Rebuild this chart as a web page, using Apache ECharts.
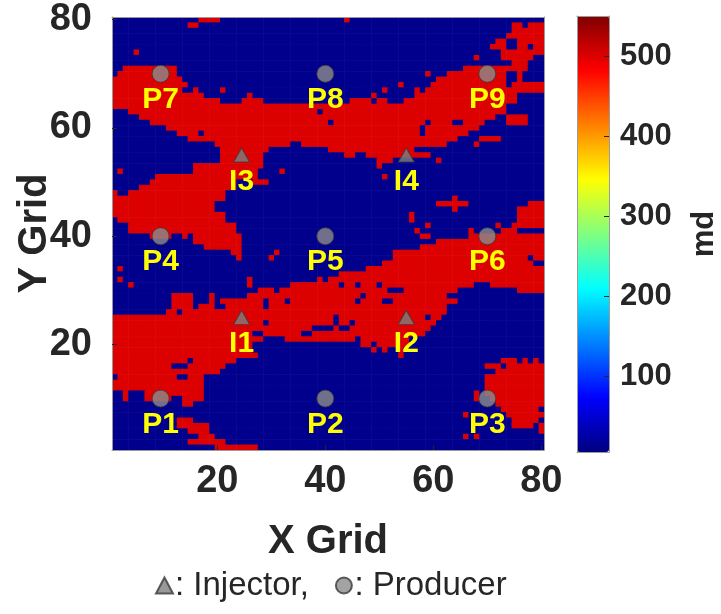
<!DOCTYPE html>
<html>
<head>
<meta charset="utf-8">
<script src="https://cdn.jsdelivr.net/npm/echarts@6/dist/echarts.min.js"></script>
<style>
  html, body { margin: 0; padding: 0; background: #ffffff; }
  #chart { width: 721px; height: 614px; }
</style>
</head>
<body>
<div id="chart"></div>
<script>
// Permeability field on an 80 x 80 grid: two facies, background and channel.
const gridSize = 80;
const permLow = 12;    // md, background facies
const permHigh = 500;  // md, channel facies

// Channel (high permeability) cells, one entry per grid row from Y = 80 down to Y = 1.
// Each entry lists X ranges ("a-b") or single X cells.
const highPermRuns = [
  "17-20 44",
  "15-16 75-76 78-80",
  "75-80",
  "74-80",
  "72-73 76-80",
  "71-73 76-77 79-80",
  "5 73-80",
  "68 73-78",
  "75-77",
  "3-12 66-77",
  "2-12 59 63-73 76",
  "1-13 61-73 76",
  "1-14 54 60-73 75-80",
  "1-13 16 21 51 57 59-80",
  "1-17 26 49 57-75",
  "1-20 25-28 45-48 50-51 55-75",
  "1-73",
  "4-38 40-73",
  "6-71 74-77",
  "8-40 42-58 60-63 66-69 74-77",
  "11-57 59-68",
  "13-16 18-57 59-66",
  "15-64 69-72",
  "20-33 36-62 68",
  "21-29 41-56",
  "21-28 44-45 48-59",
  "21-28 50-52 61",
  "16-28 50",
  "2 16-27 32",
  "9-27 51",
  "8-23 27-29",
  "6-23",
  "1 4-21",
  "1-21 64",
  "1-19 61-66 78-80",
  "1-19 64 76-80",
  "1-21 56 76-80",
  "2-21 56 76-80",
  "4-23 59 72 75-80",
  "4-23 57 67 73-75",
  "8-11 14 16-24 58-59 67-80",
  "16-24 61-80",
  "18-24 58-80",
  "23-24 31 53-80",
  "24 30 53-77 79-80",
  "51-78",
  "2 48-80",
  "43-80",
  "2 26 39 41-80",
  "4 26 34-42 44-45 47-49 51-67 71-80",
  "28-30 32-51 55-64 76-80",
  "12-15 19 26-46 48-62",
  "12-15 19 21-28 30-32 34-45 47-50 53-64",
  "12-15 17-19 22-28 30-62",
  "11-12 14-62",
  "1-41 43-58 60-61",
  "1-28 30-41 43-44 46-60",
  "1-37 42 45-59",
  "1-26 29-35 38-58",
  "1-28 33-45 47-55",
  "1-26 47-48 50-55",
  "1-26 49 51 54",
  "1-27 54",
  "1-14 16-23 73-75 77 79",
  "1-11 15-21 70-72 74-80",
  "1-20 72-80",
  "2-12 15-17 70-80",
  "1-17 70-80",
  "1-17 70-80",
  "3 7-17 68 70-80",
  "3 7-11 14-17 68 71-80",
  "14-15 72-80",
  "73-79",
  "66 74-80",
  "13-15 75-79",
  "13-18 75-78 80",
  "15-18 80",
  "17-19 66 68",
  "15-21",
  "20-27"
];

// Wells
const producerNames = ["P1", "P2", "P3", "P4", "P5", "P6", "P7", "P8", "P9"];
const producerX = [9.5, 40, 70, 9.5, 40, 70, 9.5, 40, 70];
const producerY = [10, 10, 10, 40, 40, 40, 70, 70, 70];
const injectorNames = ["I1", "I2", "I3", "I4"];
const injectorX = [24.5, 55, 24.5, 55];
const injectorY = [25, 25, 55, 55];

// Axes and colour bar
const gridTicks = [20, 40, 60, 80];
const colorbarTicks = [100, 200, 300, 400, 500];
const permRange = [5, 550];
const jetColors = ["#000080", "#0000ff", "#0080ff", "#00ffff", "#80ff80",
                   "#ffff00", "#ff8000", "#ff0000", "#800000"];

// Expand the row runs into one [x, y, permeability] record per cell.
function buildCells() {
  const cells = [];
  highPermRuns.forEach(function (row, i) {
    const y = gridSize - i;
    const high = new Set();
    row.split(" ").filter(Boolean).forEach(function (tok) {
      const parts = tok.split("-").map(Number);
      const a = parts[0], b = parts.length > 1 ? parts[1] : parts[0];
      for (let x = a; x <= b; x++) high.add(x);
    });
    for (let x = 1; x <= gridSize; x++) {
      cells.push([x, y, high.has(x) ? permHigh : permLow]);
    }
  });
  return cells;
}

function wellData(names, xs, ys) {
  return names.map(function (n, i) { return { name: n, value: [xs[i], ys[i]] }; });
}

const FONT = "'Liberation Sans', Arial, sans-serif";
const TEXT = "#262626";
const FRAME = "#9a9a9a";
const WELL_LABEL = {
  show: true, position: "bottom", formatter: "{b}",
  color: "#ffff00", fontSize: 30, fontWeight: "bold", fontFamily: FONT,
  textBorderWidth: 0, opacity: 1
};

function renderCell(params, api) {
  const x = api.value(0), y = api.value(1);
  const p0 = api.coord([x - 0.5, y + 0.5]);
  const p1 = api.coord([x + 0.5, y - 0.5]);
  return {
    type: "rect",
    shape: { x: p0[0], y: p0[1], width: p1[0] - p0[0] + 0.6, height: p1[1] - p0[1] + 0.6 },
    style: { fill: api.visual("color") }
  };
}

const frameAxis = function (extra) {
  return Object.assign({
    type: "value",
    z: 5,
    nameMoveOverlap: false,
    axisLine: { show: true, onZero: false, lineStyle: { color: FRAME, width: 1 } },
    axisTick: { show: false },
    axisLabel: { show: false },
    splitLine: { show: false }
  }, extra);
};

const chart = echarts.init(document.getElementById("chart"), null, { renderer: "canvas" });

chart.setOption({
  animation: false,
  backgroundColor: "#ffffff",
  grid: [
    { left: 112, top: 17, width: 432, height: 433, containLabel: false, outerBoundsMode: "none" },
    { left: 577, top: 16, width: 32, height: 436, containLabel: false, outerBoundsMode: "none" }
  ],
  xAxis: [
    frameAxis({
      gridIndex: 0, position: "bottom", min: 0.5, max: gridSize + 0.5,
      axisTick: { show: true, inside: true, length: 5, customValues: gridTicks,
                  lineStyle: { color: TEXT } },
      axisLabel: { show: true, customValues: gridTicks, margin: 13, color: TEXT,
                   fontSize: 38, fontWeight: "bold", fontFamily: FONT },
      name: "X Grid", nameLocation: "middle", nameGap: 72,
      nameTextStyle: { color: TEXT, fontSize: 40, fontWeight: "bold", fontFamily: FONT }
    }),
    frameAxis({ gridIndex: 0, position: "top", min: 0.5, max: gridSize + 0.5 }),
    frameAxis({ gridIndex: 1, position: "bottom", min: 0, max: 1, z: 10 }),
    frameAxis({ gridIndex: 1, position: "top", min: 0, max: 1, z: 10 })
  ],
  yAxis: [
    frameAxis({
      gridIndex: 0, position: "left", min: 0.5, max: gridSize + 0.5,
      axisTick: { show: true, inside: true, length: 5, customValues: gridTicks,
                  lineStyle: { color: TEXT } },
      axisLabel: { show: true, customValues: gridTicks, margin: 20, color: TEXT,
                   fontSize: 38, fontWeight: "bold", fontFamily: FONT },
      name: "Y Grid", nameLocation: "middle", nameGap: 57, nameRotate: 90,
      nameTextStyle: { color: TEXT, fontSize: 40, fontWeight: "bold", fontFamily: FONT }
    }),
    frameAxis({ gridIndex: 0, position: "right", min: 0.5, max: gridSize + 0.5 }),
    frameAxis({
      gridIndex: 1, position: "right", min: permRange[0], max: permRange[1], z: 10,
      axisTick: { show: true, inside: true, length: 5, customValues: colorbarTicks,
                  lineStyle: { color: TEXT } },
      axisLabel: { show: true, customValues: colorbarTicks, margin: 11, color: TEXT,
                   fontSize: 31, fontWeight: "bold", fontFamily: FONT },
      name: "md", nameLocation: "middle", nameGap: 80, nameRotate: 90,
      nameTextStyle: { color: TEXT, fontSize: 31, fontWeight: "bold", fontFamily: FONT }
    }),
    frameAxis({ gridIndex: 1, position: "left", min: permRange[0], max: permRange[1], z: 10 })
  ],
  visualMap: {
    type: "continuous",
    min: permRange[0],
    max: permRange[1],
    dimension: 2,
    seriesIndex: 0,
    calculable: false,
    hoverLink: false,
    inRange: { color: jetColors },
    itemWidth: 32,
    itemHeight: 436,
    left: 577,
    top: 16,
    padding: 0,
    text: null,
    z: 4
  },
  legend: {
    data: ["Injector", "Producer"],
    left: 150,
    top: 564,
    itemWidth: 17,
    itemHeight: 16,
    itemGap: 26,
    selectedMode: false,
    formatter: function (name) { return name === "Injector" ? ": Injector," : ": Producer"; },
    textStyle: { color: TEXT, fontSize: 33, fontFamily: FONT, padding: [0, 0, 0, -3] }
  },
  series: [
    {
      type: "custom",
      name: "Permeability",
      xAxisIndex: 0,
      yAxisIndex: 0,
      renderItem: renderCell,
      encode: { x: 0, y: 1 },
      clip: true,
      progressive: 0,
      silent: true,
      data: buildCells()
    },
    {
      type: "scatter",
      name: "Producer",
      xAxisIndex: 0,
      yAxisIndex: 0,
      symbol: "circle",
      symbolSize: 17,
      z: 6,
      itemStyle: { color: "#8c8c8c", borderColor: "#3a3a3a", borderWidth: 1 },
      label: Object.assign({ distance: 2 }, WELL_LABEL),
      data: wellData(producerNames, producerX, producerY)
    },
    {
      type: "scatter",
      name: "Injector",
      xAxisIndex: 0,
      yAxisIndex: 0,
      symbol: "triangle",
      symbolSize: [16, 14],
      z: 6,
      itemStyle: { color: "#808080", borderColor: "#3a3a3a", borderWidth: 1 },
      label: Object.assign({ distance: 4 }, WELL_LABEL),
      data: wellData(injectorNames, injectorX, injectorY)
    }
  ]
});
</script>
</body>
</html>
